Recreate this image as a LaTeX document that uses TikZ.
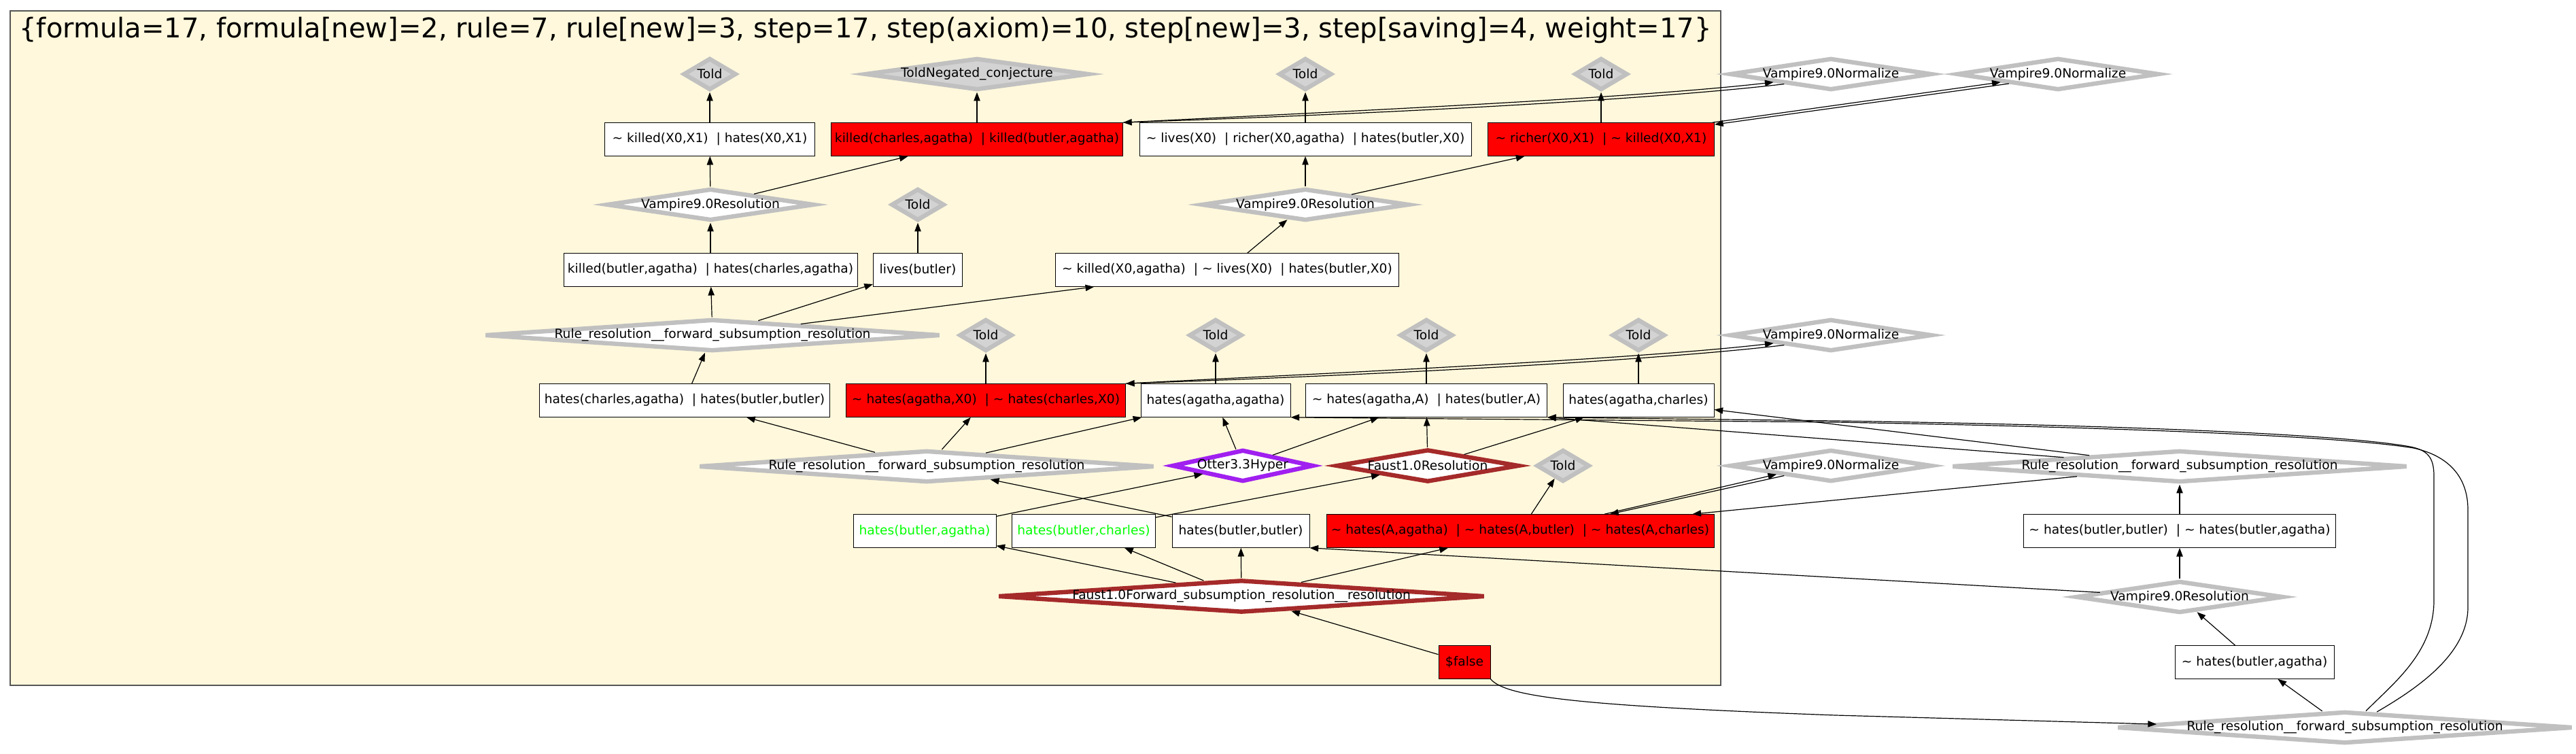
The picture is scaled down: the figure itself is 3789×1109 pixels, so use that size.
\documentclass[tikz,border=0pt]{standalone}
\usepackage{fontspec}
\setmainfont{DejaVu Sans}
\usetikzlibrary{shapes.geometric,arrows.meta,calc}
\definecolor{silv}{HTML}{C0C0C0}
\definecolor{lgray}{HTML}{D3D3D3}
\definecolor{purp}{HTML}{A020F0}
\definecolor{brwn}{HTML}{A52A2A}
\definecolor{rd}{HTML}{FF0000}
\definecolor{grn}{HTML}{00FF00}
\definecolor{csilk}{HTML}{FFF8DC}
\definecolor{clborder}{HTML}{555555}
\newcommand{\tild}{\textasciitilde}
\newcommand{\orr}{\ \ |\ }
\begin{document}
\begin{tikzpicture}[x=0.75pt,y=-0.75pt,
  font=\fontsize{14}{16}\selectfont,
  box/.style={draw=black,fill=white,line width=0.75pt,inner sep=0pt,minimum width=#1*0.75pt,minimum height=36.5pt},
  rbox/.style={box=#1,fill=rd},
  gbox/.style={box=#1,text=grn},
  dia/.style n args={3}{diamond,inner sep=0pt,minimum width=#1*0.75pt,minimum height=#2*0.75pt,line width=4.8pt,label={center:#3}},
  told/.style={dia={78}{47}{Told},draw=silv,fill=lgray},
  gdia/.style n args={3}{dia={#1}{#2}{#3},draw=silv,fill=white},
  pdia/.style n args={3}{dia={#1}{#2}{#3},draw=purp,fill=white},
  bdia/.style n args={3}{dia={#1}{#2}{#3},draw=brwn,fill=white},
  arr/.style={-{Triangle[length=9.5pt,width=7pt]},line width=0.9pt,draw=black}
]
\fill[white] (0,0) rectangle (3789,1109);
\useasboundingbox (0,0) rectangle (3789,1109);
\draw[fill=csilk,draw=clborder,line width=1.2pt] (15,16) rectangle (2531,1008);
\node[font=\fontsize{30}{36}\selectfont,anchor=base,inner sep=0pt] (title) at (1273,56)
  {\{formula=17, formula[new]=2, rule=7, rule[new]=3, step=17, step(axiom)=10, step[new]=3, step[saving]=4, weight=17\}};

% row 1
\node[told] (t1) at (1044,109) {};
\node[dia={329}{47}{ToldNegated\_conjecture},draw=silv,fill=lgray] (tneg) at (1437,109) {};
\node[told] (t3) at (1920,109) {};
\node[told] (t4) at (2355,109) {};
\node[gdia={297}{47}{Vampire9.0Normalize}] (norm1) at (2693,109) {};
\node[gdia={297}{47}{Vampire9.0Normalize}] (norm2) at (3027,109) {};
% row 2
\node[box=309] (kxx) at (1044,205) {\tild\ killed(X0,X1)\orr hates(X0,X1)};
\node[rbox=429] (rkc) at (1437,205) {killed(charles,agatha)\orr killed(butler,agatha)};
\node[box=488] (lrh) at (1920,205) {\tild\ lives(X0)\orr richer(X0,agatha)\orr hates(butler,X0)};
\node[rbox=333] (rrx) at (2355,205) {\tild\ richer(X0,X1)\orr \tild\ killed(X0,X1)};
% row 3
\node[gdia={305}{47}{Vampire9.0Resolution}] (vr1) at (1045,301) {};
\node[told] (t2) at (1350,301) {};
\node[gdia={305}{47}{Vampire9.0Resolution}] (vr2) at (1920,301) {};
% row 4
\node[box=432] (kbh) at (1045,397) {killed(butler,agatha)\orr hates(charles,agatha)};
\node[box=131] (lb) at (1350,397) {lives(butler)};
\node[box=505] (kla) at (1805,397) {\tild\ killed(X0,agatha)\orr \tild\ lives(X0)\orr hates(butler,X0)};
% row 5
\node[gdia={670}{47}{Rule\_resolution\_\_forward\_subsumption\_resolution}] (rule1) at (1048,493) {};
\node[told] (t5) at (1450,493) {};
\node[told] (t6) at (1788,493) {};
\node[told] (t7) at (2098,493) {};
\node[told] (t8) at (2410,493) {};
\node[gdia={297}{47}{Vampire9.0Normalize}] (norm3) at (2693,493) {};
% row 6
\node[box=427] (hcb) at (1007,589) {hates(charles,agatha)\orr hates(butler,butler)};
\node[rbox=411] (rhx) at (1450,589) {\tild\ hates(agatha,X0)\orr \tild\ hates(charles,X0)};
\node[box=220] (haa) at (1788,589) {hates(agatha,agatha)};
\node[box=355] (hAA) at (2098,589) {\tild\ hates(agatha,A)\orr hates(butler,A)};
\node[box=222] (hac) at (2410,589) {hates(agatha,charles)};
% row 7
\node[gdia={670}{47}{Rule\_resolution\_\_forward\_subsumption\_resolution}] (rule2) at (1363,686) {};
\node[pdia={208}{47}{Otter3.3Hyper}] (otter) at (1828,685) {};
\node[bdia={269}{48}{Faust1.0Resolution}] (fr) at (2100,685) {};
\node[told] (t9) at (2299,685) {};
\node[gdia={297}{47}{Vampire9.0Normalize}] (norm5) at (2693,685) {};
\node[gdia={670}{47}{Rule\_resolution\_\_forward\_subsumption\_resolution}] (rule3) at (3206,686) {};
% row 8
\node[gbox=210] (hba) at (1360,781) {hates(butler,agatha)};
\node[gbox=211] (hbc) at (1594,781) {hates(butler,charles)};
\node[box=202] (hbb) at (1825,781) {hates(butler,butler)};
\node[rbox=570] (rha) at (2236,781) {\tild\ hates(A,agatha)\orr \tild\ hates(A,butler)\orr \tild\ hates(A,charles)};
\node[box=459] (nbb) at (3206,781) {\tild\ hates(butler,butler)\orr \tild\ hates(butler,agatha)};
% row 9
\node[bdia={716}{48}{Faust1.0Forward\_subsumption\_resolution\_\_resolution}] (ff) at (1826,877) {};
\node[gdia={305}{47}{Vampire9.0Resolution}] (vr3) at (3206,878) {};
% row 10
\node[rbox=76] (fals) at (2154,974) {\$false};
\node[box=234] (nba) at (3316,974) {\tild\ hates(butler,agatha)};
% row 11
\node[gdia={670}{47}{Rule\_resolution\_\_forward\_subsumption\_resolution}] (rule4) at (3449,1070) {};

% straight edges
\draw[arr] (kxx) -- (t1);
\draw[arr] (rkc) -- (tneg);
\draw[arr] (lrh) -- (t3);
\draw[arr] (rrx) -- (t4);
\draw[arr] (vr1) -- (kxx);
\draw[arr] (vr1) -- (rkc);
\draw[arr] (vr2) -- (lrh);
\draw[arr] (vr2) -- (rrx);
\draw[arr] (kbh) -- (vr1);
\draw[arr] (kla) -- (vr2);
\draw[arr] (lb) -- (t2);
\draw[arr] (rule1) -- (kbh);
\draw[arr] (rule1) -- (lb);
\draw[arr] (rule1) -- (kla);
\draw[arr] (hcb) -- (rule1);
\draw[arr] (rhx) -- (t5);
\draw[arr] (haa) -- (t6);
\draw[arr] (hAA) -- (t7);
\draw[arr] (hac) -- (t8);
\draw[arr] (rule2) -- (hcb);
\draw[arr] (rule2) -- (rhx);
\draw[arr] (rule2) -- (haa);
\draw[arr] (otter) -- (haa);
\draw[arr] (otter) -- (hAA);
\draw[arr] (fr) -- (hAA);
\draw[arr] (fr) -- (hac);
\draw[arr] (hba) -- (otter);
\draw[arr] (hbc) -- (fr);
\draw[arr] (hbb) -- (rule2);
\draw[arr] (rha) -- (t9);
\draw[arr] (ff) -- (hba);
\draw[arr] (ff) -- (hbc);
\draw[arr] (ff) -- (hbb);
\draw[arr] (ff) -- (rha);
\draw[arr] (fals) -- (ff);
\draw[arr] (rule4) -- (nba);
\draw[arr] (nba) -- (vr3);
\draw[arr] (vr3) -- (nbb);
\draw[arr] (vr3) -- (hbb.south east);
\draw[arr] (nbb) -- (rule3);
\draw[arr] (rule3) -- (hac);
\draw[arr] (rule3) -- (rha);
\draw[arr] (rule3) -- (hAA.south east);

% curved edges
\draw[arr] (fals.south east) .. controls (2215,1025) and (2320,1038) .. (2700,1052) -- (rule4.179);
\draw[arr] (rule4.38) .. controls (3520,1005) and (3580,960) .. (3580,883) -- (3580,700)
  .. controls (3580,672) and (3570,662) .. (3545,657)
  .. controls (3440,638) and (3100,625) .. (2700,619) -- (hAA.south east);
\draw[arr] (rule4.26) .. controls (3560,1010) and (3630,960) .. (3630,893) -- (3630,750)
  .. controls (3630,700) and (3600,670) .. (3550,659)
  .. controls (3440,641) and (3100,628) .. (2700,621) -- (haa.south east);

% double edges with Normalize
\draw[arr] (rkc.north east) .. controls (1950,165) and (2400,145) .. (norm1.188);
\draw[arr] (norm1.192) .. controls (2400,150) and (1950,170) .. (rkc.north east);
\draw[arr] ($(rrx.north east)+(-3,0)$) -- (norm2.188);
\draw[arr] (norm2.191) -- ($(rrx.north east)+(0,3)$);
\draw[arr] (rhx.north east) .. controls (1950,549) and (2400,529) .. (norm3.188);
\draw[arr] (norm3.192) .. controls (2400,534) and (1950,554) .. (rhx.north east);
\draw[arr] ($(rha.north)+(124,0)$) -- (norm5.189);
\draw[arr] (norm5.192) -- ($(rha.north)+(132,0)$);
\end{tikzpicture}
\end{document}
